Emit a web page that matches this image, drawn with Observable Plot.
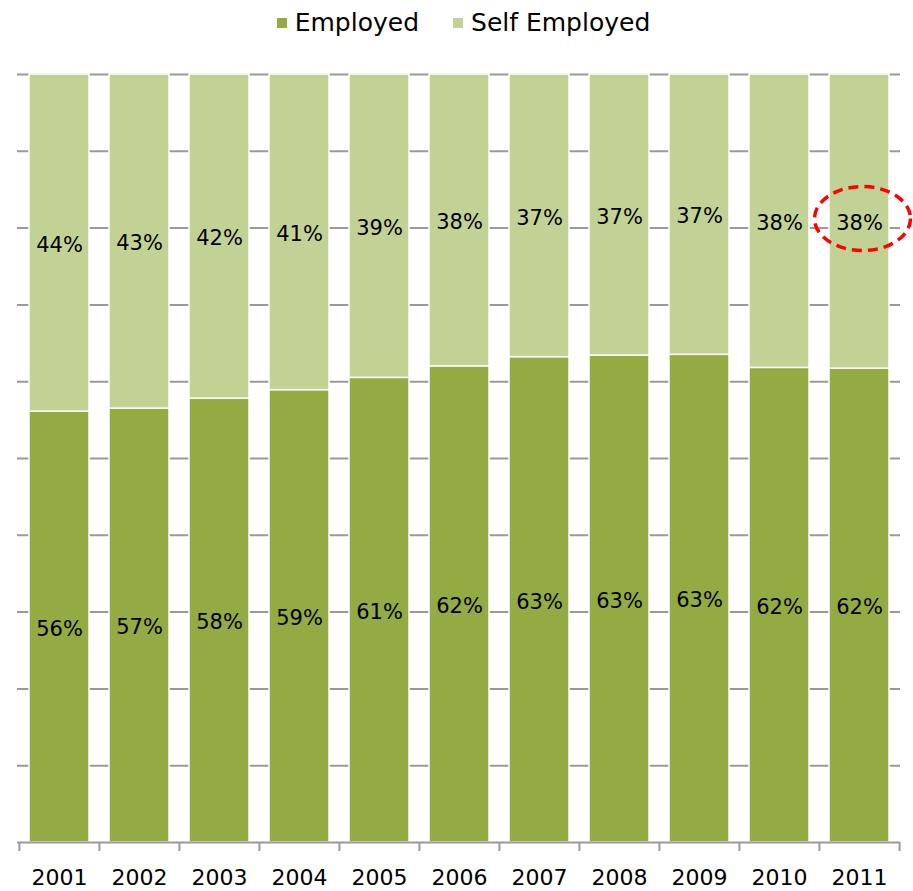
<!DOCTYPE html>
<html>
<head>
<meta charset="utf-8">
<script src="https://cdn.jsdelivr.net/npm/d3@7"></script>
<script src="https://cdn.jsdelivr.net/npm/@observablehq/plot@0.6"></script>
<style>
  body { margin: 0; background: #fff; font-family: "DejaVu Sans", sans-serif; }
  #legend { height: 45px; display: flex; justify-content: center; align-items: center; gap: 34px; font-size: 25px; color: #000; padding-left: 14px; box-sizing: border-box; }
  .item { display: flex; align-items: center; gap: 8px; }
  .sw { width: 10px; height: 10px; display: inline-block; }
</style>
</head>
<body>
<div id="legend"></div>
<div id="chart"></div>
<script>
const years = ["2001","2002","2003","2004","2005","2006","2007","2008","2009","2010","2011"];
const series = ["Employed", "Self Employed"];
const colors = ["#93ab42", "#c2d295"];
const employed = [56.1, 56.5, 57.8, 58.9, 60.5, 62.0, 63.2, 63.4, 63.5, 61.8, 61.7];
const selfEmployed = employed.map(v => 100 - v);
const employedLabels = ["56%","57%","58%","59%","61%","62%","63%","63%","63%","62%","62%"];
const selfLabels = ["44%","43%","42%","41%","39%","38%","37%","37%","37%","38%","38%"];
const gridTicks = [10,20,30,40,50,60,70,80,90,100];
const highlightYear = "2011";

const rows = [];
years.forEach((yr, i) => {
  rows.push({year: yr, series: series[0], value: employed[i], label: employedLabels[i]});
  rows.push({year: yr, series: series[1], value: selfEmployed[i], label: selfLabels[i]});
});

// legend
const lg = document.getElementById("legend");
series.forEach((s, i) => {
  const it = document.createElement("span"); it.className = "item";
  const sw = document.createElement("span"); sw.className = "sw"; sw.style.background = colors[i];
  const t = document.createElement("span"); t.textContent = s;
  it.append(sw, t); lg.append(it);
});

const hiIdx = years.indexOf(highlightYear);
const highlight = [{year: highlightYear, mid: employed[hiIdx] + selfEmployed[hiIdx] / 2}];

// custom ellipse symbol (d3 symbol-type interface)
const RX = 48, RY = 32, K = 0.5523;
const ellipseSymbol = {
  draw(ctx) {
    ctx.moveTo(RX, 0);
    ctx.bezierCurveTo(RX, K * RY, K * RX, RY, 0, RY);
    ctx.bezierCurveTo(-K * RX, RY, -RX, K * RY, -RX, 0);
    ctx.bezierCurveTo(-RX, -K * RY, -K * RX, -RY, 0, -RY);
    ctx.bezierCurveTo(K * RX, -RY, RX, -K * RY, RX, 0);
    ctx.closePath();
  }
};

const chart = Plot.plot({
  width: 913,
  height: 846,
  marginTop: 29,
  marginBottom: 49,
  marginLeft: 17,
  marginRight: 13,
  style: {fontFamily: "DejaVu Sans, sans-serif", fontSize: "21px", color: "#000", background: "#fff"},
  x: {domain: years, paddingInner: 0.25, paddingOuter: 0.125, label: null},
  y: {domain: [0, 100], axis: null},
  color: {domain: series, range: colors},
  marks: [
    Plot.ruleY(gridTicks, {stroke: "#9a9a9a", strokeWidth: 2}),
    Plot.barY(rows, Plot.stackY({x: "year", y: "value", fill: "series", stroke: "#fff", strokeWidth: 1.5, order: series})),
    Plot.text(rows, Plot.stackY({x: "year", y: "value", z: "series", text: "label", order: series, fill: "#000", fontSize: 21, dy: 2})),
    Plot.ruleY([0], {stroke: "#9a9a9a", strokeWidth: 2}),
    Plot.ruleX(years, {x: d => d, y1: 0, y2: 0, insetBottom: -9, dx: -40.1, stroke: "#9a9a9a", strokeWidth: 2}),
    Plot.ruleX([years[years.length - 1]], {x: d => d, y1: 0, y2: 0, insetBottom: -9, dx: 40.1, stroke: "#9a9a9a", strokeWidth: 2}),
    Plot.axisX({tickSize: 0, tickPadding: 27, fontSize: 22, label: null}),
    Plot.dot(highlight, {x: "year", y: "mid", symbol: ellipseSymbol, r: 10, dx: 3, dy: -3, fill: "none", stroke: "#ff0000", strokeWidth: 3.5, strokeDasharray: "10,6"})
  ]
});
document.getElementById("chart").append(chart);
</script>
</body>
</html>
